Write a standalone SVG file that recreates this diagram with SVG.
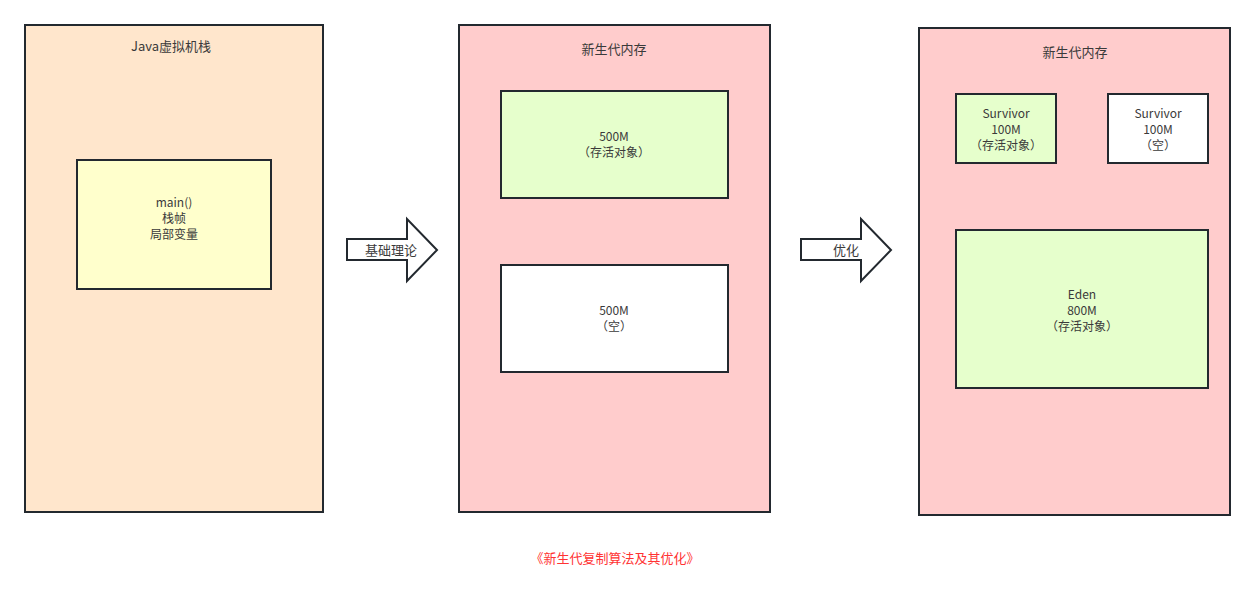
<svg xmlns="http://www.w3.org/2000/svg" width="1255" height="600" viewBox="0 0 1255 600">
<style>
.box{stroke:#23292f;stroke-width:2}
.t{font-family:"Noto Sans CJK SC","Liberation Sans",sans-serif;font-size:12px;fill:#3a3a3a;text-anchor:middle}
.r{fill:#ff3333;font-size:13px}
.a{font-size:13px}
</style>
<rect width="1255" height="600" fill="#ffffff"/>
<g id="stack">
<rect class="box" x="25" y="25" width="298" height="487" fill="#ffe6cc"/>
<text class="t a" x="171" y="51">Java虚拟机栈</text>
</g>
<g id="frame">
<rect class="box" x="77" y="160" width="194" height="129" fill="#ffffcc"/>
<text class="t" x="174" y="207">main()</text>
<text class="t" x="174" y="223">栈帧</text>
<text class="t" x="174" y="239">局部变量</text>
</g>
<g id="young1">
<rect class="box" x="459" y="25" width="311" height="487" fill="#ffcccc"/>
<text class="t a" x="614" y="54">新生代内存</text>
</g>
<g id="half1">
<rect class="box" x="501" y="91" width="227" height="107" fill="#e6ffcc"/>
<text class="t" x="614" y="141">500M</text>
<text class="t" x="614" y="157">（存活对象）</text>
</g>
<g id="half2">
<rect class="box" x="501" y="265" width="227" height="107" fill="#ffffff"/>
<text class="t" x="614" y="315">500M</text>
<text class="t" x="614" y="331">（空）</text>
</g>
<g id="young2">
<rect class="box" x="919" y="28" width="311" height="487" fill="#ffcccc"/>
<text class="t a" x="1075" y="57">新生代内存</text>
</g>
<g id="survivor1">
<rect class="box" x="956" y="94" width="100" height="69" fill="#e6ffcc"/>
<text class="t" x="1006" y="118">Survivor</text>
<text class="t" x="1006" y="134">100M</text>
<text class="t" x="1006" y="150">（存活对象）</text>
</g>
<g id="survivor2">
<rect class="box" x="1108" y="94" width="100" height="69" fill="#ffffff"/>
<text class="t" x="1158" y="118">Survivor</text>
<text class="t" x="1158" y="134">100M</text>
<text class="t" x="1158" y="150">（空）</text>
</g>
<g id="eden">
<rect class="box" x="956" y="230" width="252" height="158" fill="#e6ffcc"/>
<text class="t" x="1082" y="299">Eden</text>
<text class="t" x="1082" y="315">800M</text>
<text class="t" x="1082" y="331">（存活对象）</text>
</g>
<g id="connectors">
<g id="arrow1">
<path class="box" d="M347,239 H407 V219 L437,250 L407,281 V260 H347 Z" fill="#ffffff"/>
<text class="t a" x="391" y="255">基础理论</text>
</g>
<g id="arrow2">
<path class="box" d="M801,239 H861 V219 L891,250 L861,281 V260 H801 Z" fill="#ffffff"/>
<text class="t a" x="846" y="255">优化</text>
</g>
</g>
<g id="caption">
<text class="t r" x="615" y="563">《新生代复制算法及其优化》</text>
</g>
</svg>
